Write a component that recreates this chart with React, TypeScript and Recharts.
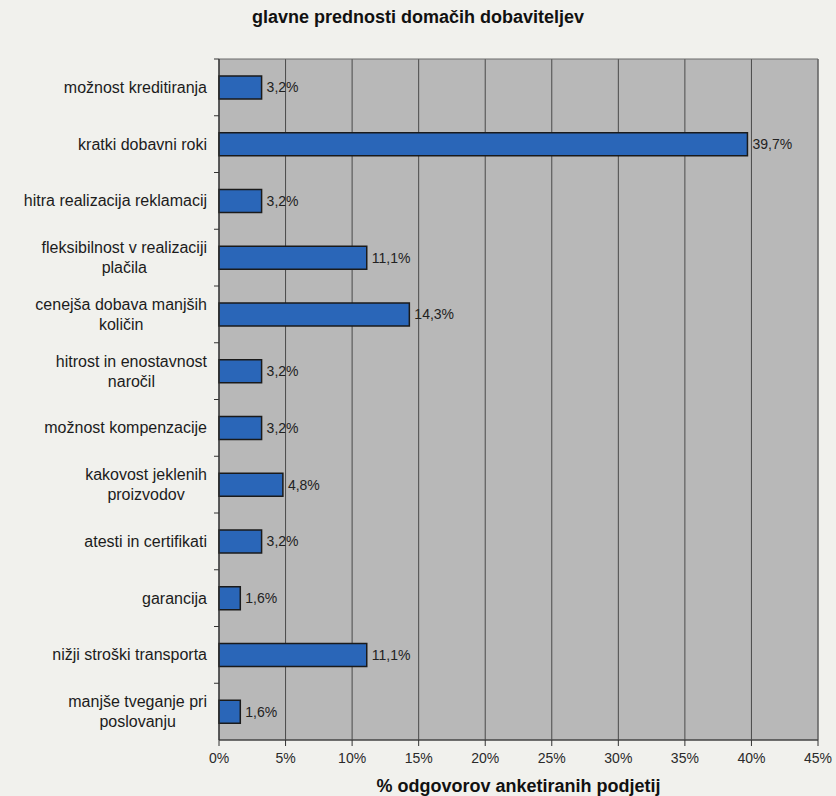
import React from "react";
import {
  BarChart,
  Bar,
  XAxis,
  YAxis,
  CartesianGrid,
  LabelList,
  ReferenceArea,
} from "recharts";

const categories = [
  "možnost kreditiranja",
  "kratki dobavni roki",
  "hitra realizacija reklamacij",
  "fleksibilnost v realizaciji\nplačila",
  "cenejša dobava manjših\nkoličin",
  "hitrost in enostavnost\nnaročil",
  "možnost kompenzacije",
  "kakovost jeklenih\nproizvodov",
  "atesti in certifikati",
  "garancija",
  "nižji stroški transporta",
  "manjše tveganje pri\nposlovanju",
];

const shares = [3.2, 39.7, 3.2, 11.1, 14.3, 3.2, 3.2, 4.8, 3.2, 1.6, 11.1, 1.6];

const xTicks = [0, 5, 10, 15, 20, 25, 30, 35, 40, 45];

const title = "glavne prednosti domačih dobaviteljev";
const xTitle = "% odgovorov anketiranih podjetij";

const data = categories.map((name, i) => ({ name, value: shares[i] }));

const W = 836;
const H = 796;
const M_TOP = 59;
const M_RIGHT = 18;
const Y_W = 219;
const X_H = 56;
const FONT = "'Liberation Sans', Arial, sans-serif";
const BAND = (H - M_TOP - X_H) / categories.length;

let ctx: CanvasRenderingContext2D | null = null;
function measure(t: string, font: string) {
  if (!ctx) {
    const c = document.createElement("canvas");
    ctx = c.getContext("2d");
  }
  if (!ctx) return t.length * 7;
  ctx.font = font;
  return ctx.measureText(t).width;
}

const YTick = (props: any) => {
  const { x, y, payload } = props;
  const lines: string[] = String(payload.value).split("\n");
  const fs = 16;
  const lh = 20;
  const gap = 12;
  const widths = lines.map((l) => measure(l, `${fs}px ${FONT}`));
  const maxW = Math.max(...widths);
  const cx = x - gap - maxW / 2;
  const startY = y - ((lines.length - 1) * lh) / 2;
  return (
    <g>
      <line x1={x - 5} x2={x} y1={y - BAND / 2} y2={y - BAND / 2} stroke="#333" strokeWidth={1} />
      <text
        fontFamily={FONT}
        fontSize={fs}
        fill="#1c1c1c"
        textAnchor={lines.length > 1 ? "middle" : "end"}
      >
        {lines.map((l, i) => (
          <tspan
            key={i}
            x={lines.length > 1 ? cx : x - gap}
            y={startY + i * lh}
            dy="0.35em"
          >
            {l}
          </tspan>
        ))}
      </text>
    </g>
  );
};

const fmt = (v: any) => `${Number(v).toFixed(1).replace(".", ",")}%`;

export default function App() {
  return (
    <div
      style={{
        position: "absolute",
        left: 0,
        top: 0,
        width: W,
        height: H,
        background: "#f1f1ed",
        overflow: "hidden",
      }}
    >
      <div
        style={{
          position: "absolute",
          left: 0,
          width: W,
          top: 7,
          textAlign: "center",
          fontFamily: FONT,
          fontWeight: "bold",
          fontSize: 18,
          color: "#111",
        }}
      >
        {title}
      </div>
      <BarChart
        width={W}
        height={H}
        data={data}
        layout="vertical"
        margin={{ top: M_TOP, right: M_RIGHT, bottom: 0, left: 0 }}
      >
        <CartesianGrid
          horizontal={false}
          vertical={true}
          fill="#b8b8b8"
          stroke="#4a4a4a"
          strokeWidth={1}
        />
        <ReferenceArea x1={0} x2={45} fill="none" stroke="#6a6a6a" strokeWidth={1} />
        <XAxis
          type="number"
          domain={[0, 45]}
          ticks={xTicks}
          height={X_H}
          tickFormatter={(v) => `${v}%`}
          tick={{ fontFamily: FONT, fontSize: 14, fill: "#2a2a2a" }}
          tickSize={6}
          tickMargin={7}
          axisLine={{ stroke: "#333" }}
          tickLine={{ stroke: "#333" }}
          interval={0}
        />
        <YAxis
          type="category"
          dataKey="name"
          width={Y_W}
          tickSize={0}
          tickMargin={0}
          tickLine={false}
          axisLine={{ stroke: "#333" }}
          tick={<YTick />}
          interval={0}
        />
        <Bar
          dataKey="value"
          barSize={23}
          fill="#2a66b8"
          stroke="#1a1a1a"
          strokeWidth={1.5}
          isAnimationActive={false}
        >
          <LabelList
            dataKey="value"
            position="right"
            offset={5}
            formatter={fmt}
            style={{ fontFamily: FONT, fontSize: 14, fill: "#222" }}
          />
        </Bar>
      </BarChart>
      <div
        style={{
          position: "absolute",
          left: Y_W,
          width: W - Y_W - M_RIGHT,
          top: 776,
          textAlign: "center",
          fontFamily: FONT,
          fontWeight: "bold",
          fontSize: 18,
          color: "#111",
        }}
      >
        {xTitle}
      </div>
    </div>
  );
}
